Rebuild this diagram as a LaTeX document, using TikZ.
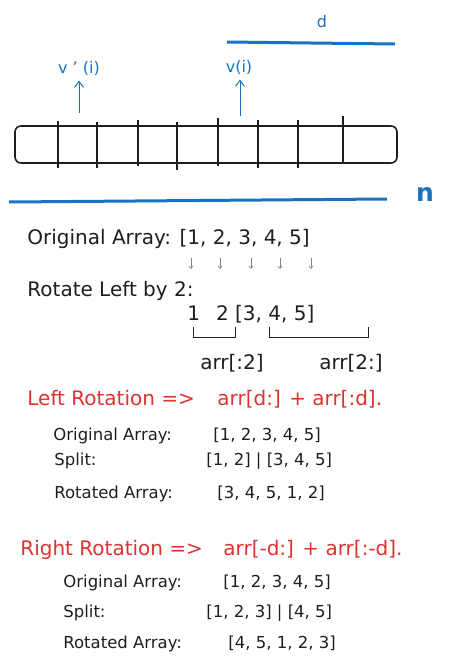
\documentclass[tikz,border=0pt]{standalone}
\usepackage{fontspec}
\setmainfont{DejaVu Sans}
\usetikzlibrary{arrows.meta}
\definecolor{penblue}{HTML}{1971C2}
\definecolor{penred}{HTML}{E03131}
\definecolor{ink}{HTML}{1E1E1E}

\begin{document}
\begin{tikzpicture}[x=1pt, y=-1pt, thick,
  txt/.style = {anchor=base west, inner sep=0, text=ink, font=\fontsize{20}{23}\selectfont},
  sub/.style = {txt, font=\fontsize{16.5}{19}\selectfont},
  hdr/.style = {txt, text=penred},
  note/.style = {inner sep=0, text=penblue, font=\fontsize{16}{19}\selectfont},
  up/.style = {penblue, line width=1pt, -{Straight Barb[length=6pt, width=9pt]}},
  down/.style = {gray, line width=0.6pt, -{Straight Barb[length=2.5pt, width=4pt]}},
  cell/.style = {ink, line width=1.6pt}]
\useasboundingbox (0,0) rectangle (463,664);

% array with markers
\draw[penblue, line width=3pt] (227,42) coordinate (d1) -- (395,44) coordinate (d2);
\node[note] (d) at (322,22) {d};
\node[note] (vp) at (79,68) {v ' (i)};
\node[note] (vi) at (239,67) {v(i)};
\coordinate (t1) at (79,113);
\coordinate (t2) at (240,116);
\draw[up, shorten >=5pt] (t1) -- (t1 |- vp.south);
\draw[up, shorten >=5pt] (t2) -- (t2 |- vi.south);
\draw[cell, rounded corners=6pt] (15,126) rectangle (397,163);
\foreach \x/\a/\b in {58/121/168, 97/122/168, 138/120/166, 177/122/170, 218/118/166, 258/120/168, 298/120/168, 343/116/163}
  \draw[cell] (\x,\a) -- (\x,\b);
\draw[penblue, line width=3pt] (9,202) coordinate (n1) -- (387,199) coordinate (n2);
\node[note, font=\fontsize{25}{27}\selectfont\bfseries] (n) at (425,194) {n};

% rotate left example
\node[txt] (orig) at (27,244) {Original Array: [1, 2, 3, 4, 5]};
\foreach \x in {191,220,251,280,311}
  \draw[down] (\x,258) -- (\x,269);
\node[txt] (rot) at (27,296) {Rotate Left by 2:};
\node[txt] (nums) at (187,320) {1\hspace{0.8em}2 [3, 4, 5]};
\draw[ink, line width=0.8pt] (193,327) |- (235,337) -- (235,327);
\draw[ink, line width=0.8pt] (269,327) |- (368,337) -- (368,327);
\node[txt, anchor=base] (lhs) at (232,369) {arr[:2]};
\node[txt, anchor=base] (rhs) at (351,369) {arr[2:]};

% left rotation
\node[hdr] (lrot) at (27,405) {Left Rotation =>};
\node[hdr] (lform) at (217,405) {arr[d:] + arr[:d].};
\node[sub] (lo) at (53,440) {Original Array:};
\node[sub] (lov) at (213,440) {[1, 2, 3, 4, 5]};
\node[sub] (ls) at (54,465) {Split:};
\node[sub] (lsv) at (206,465) {[1, 2] | [3, 4, 5]};
\node[sub] (lr) at (54,498) {Rotated Array:};
\node[sub] (lrv) at (217,498) {[3, 4, 5, 1, 2]};

% right rotation
\node[hdr] (rrot) at (20,555) {Right Rotation =>};
\node[hdr] (rform) at (223,555) {arr[-d:] + arr[:-d].};
\node[sub] (ro) at (63,587) {Original Array:};
\node[sub] (rov) at (223,587) {[1, 2, 3, 4, 5]};
\node[sub] (rs) at (63,617) {Split:};
\node[sub] (rsv) at (206,617) {[1, 2, 3] | [4, 5]};
\node[sub] (rr) at (63,648) {Rotated Array:};
\node[sub] (rrv) at (228,648) {[4, 5, 1, 2, 3]};
\end{tikzpicture}
\end{document}
